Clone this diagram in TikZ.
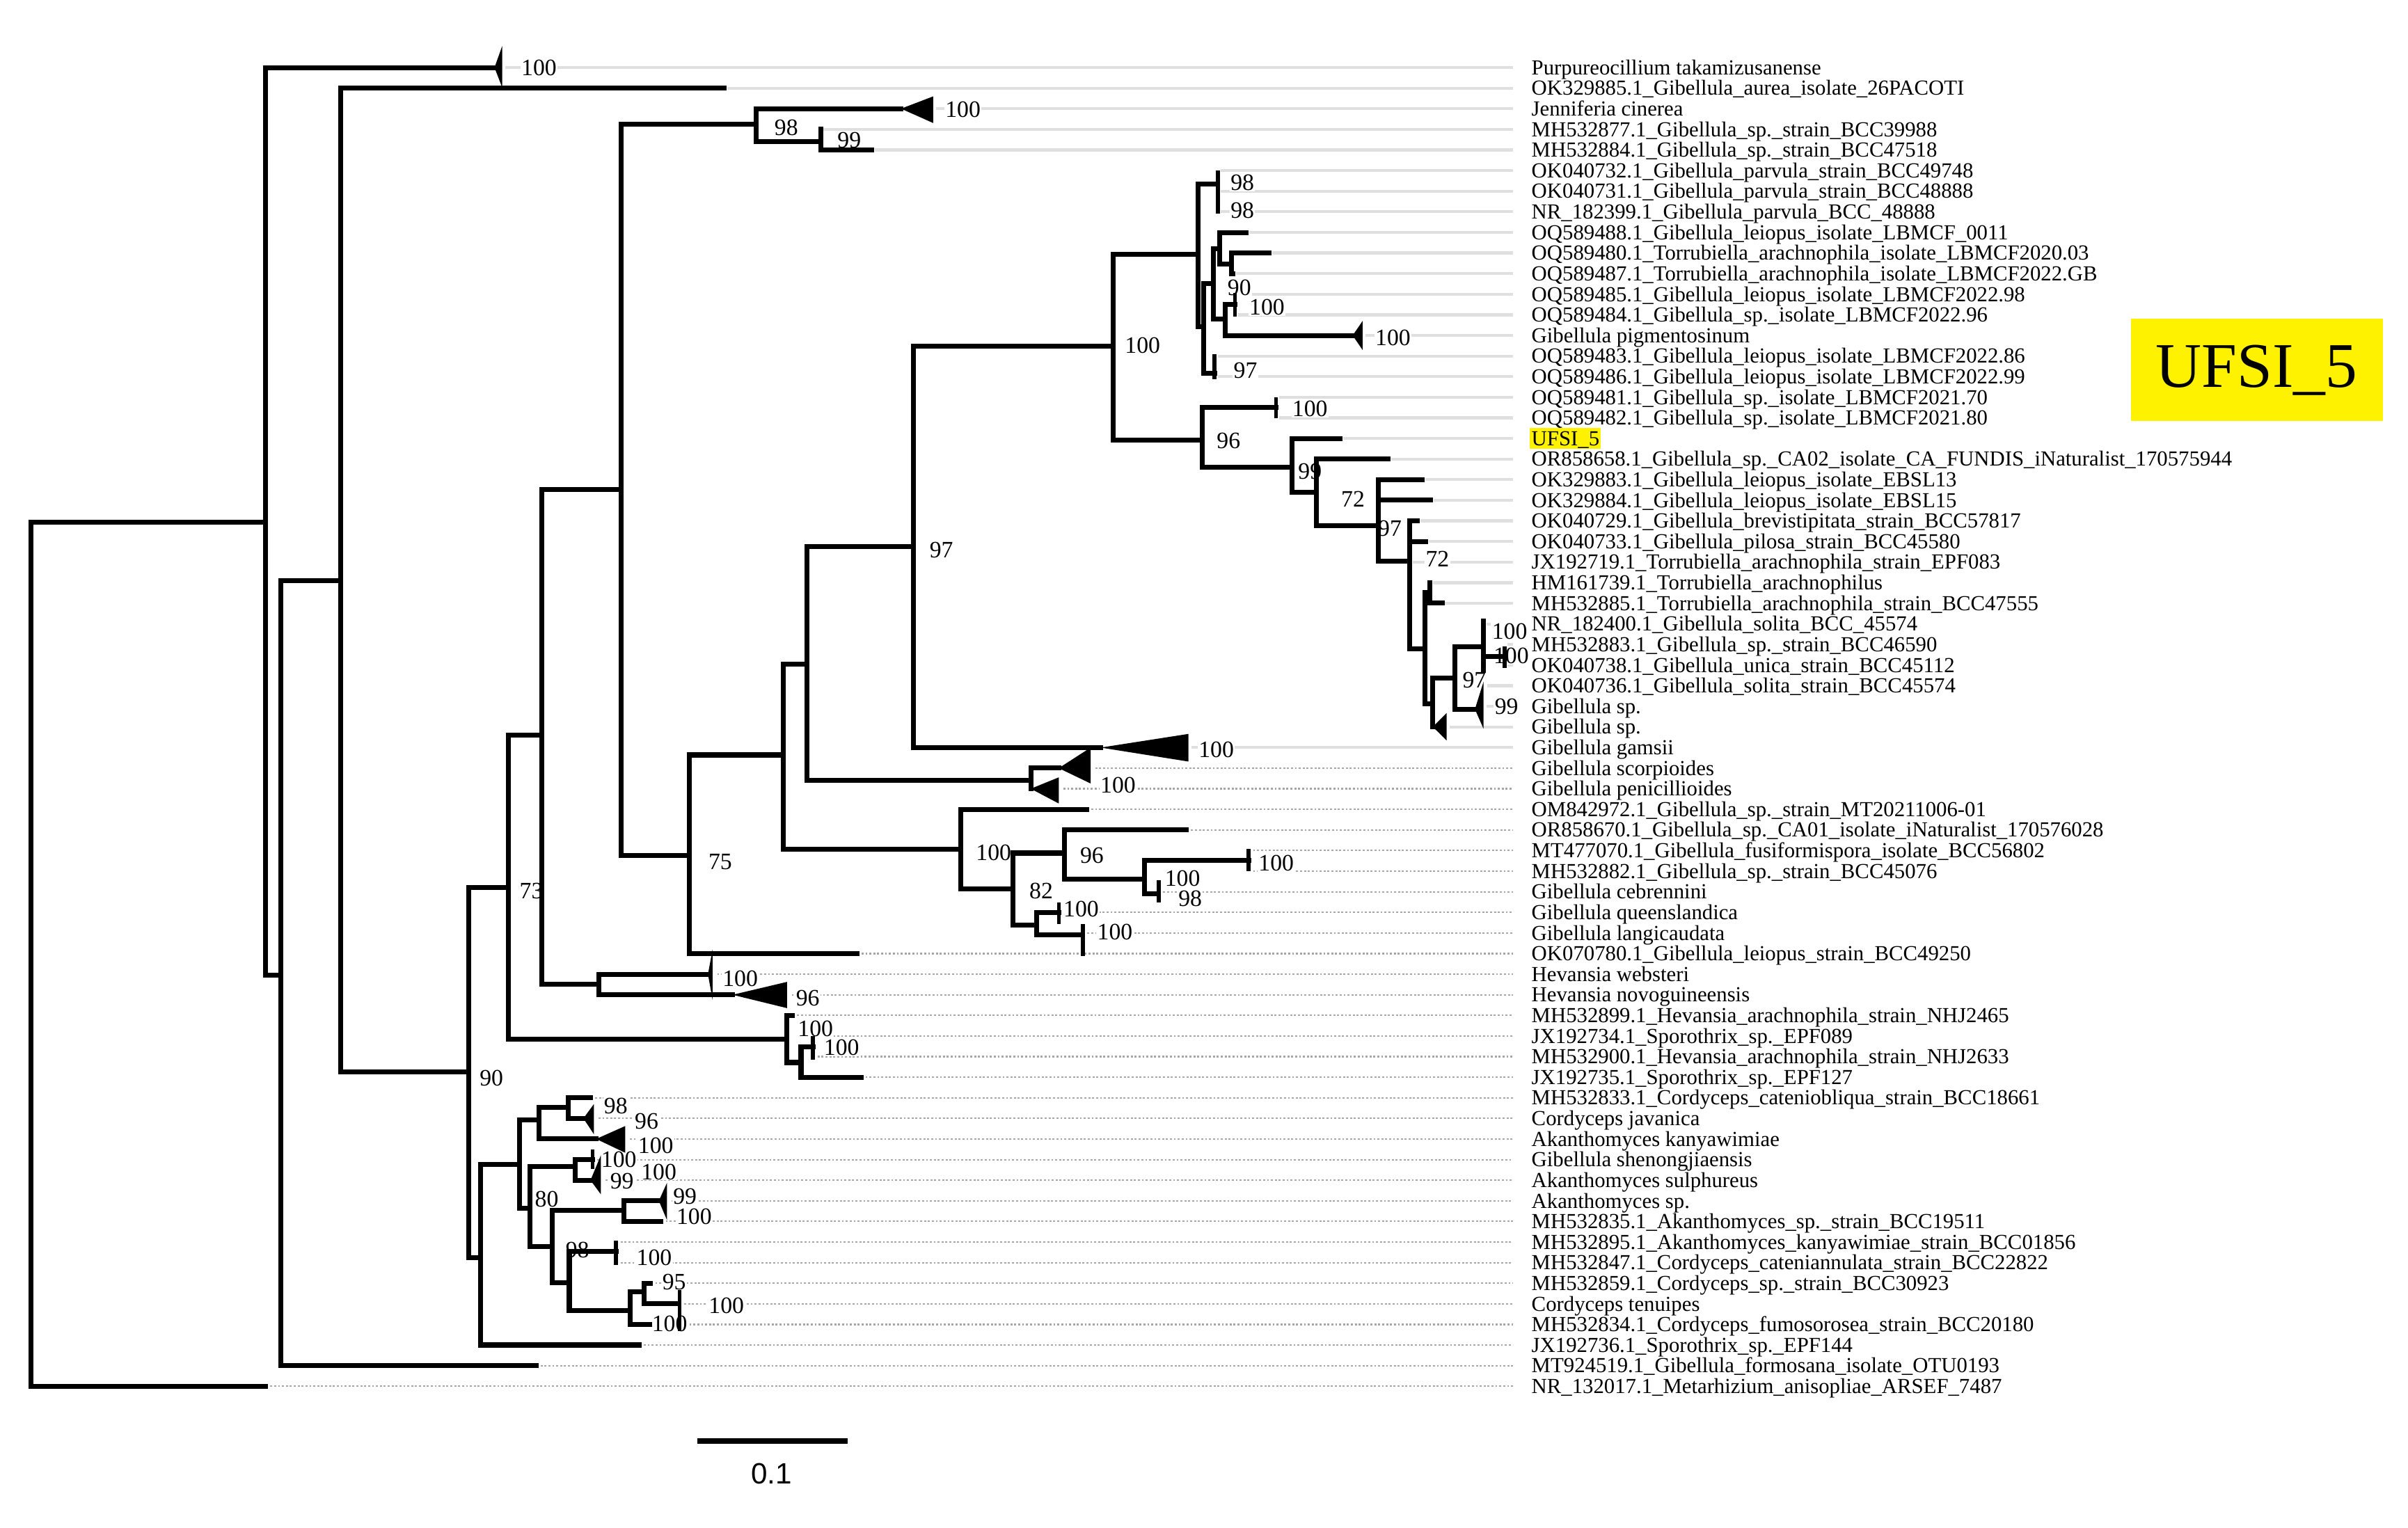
\documentclass[tikz,border=0pt]{standalone}
\usepackage{fontspec}
\setmainfont{Liberation Serif}
\newfontfamily\barfont{Liberation Sans}
\usetikzlibrary{positioning}

\tikzset{
  branch/.style={line width=2pt, line cap=rect},
  tipmark/.style={line width=1.6pt},
  leader/.style={line width=1.2pt, gray!25},
  dotleader/.style={line width=0.6pt, gray!70, dash pattern=on 0.8pt off 0.8pt},
  boot/.style={font=\fontsize{9.6}{9.6}\selectfont, inner sep=0.4pt, text height=6.5pt, text depth=0pt, fill=white},
  tiplabel/.style={font=\fontsize{8.75}{8.75}\selectfont, anchor=west, inner sep=0pt, text height=5.8pt, text depth=0pt},
}

\begin{document}
\begin{tikzpicture}[x=0.022066cm, y=-0.022066cm]
\useasboundingbox (0,0) rectangle (1568,995);

% leaders from tips to the names
\foreach \sx [count=\i] in {327,471.4,607.6,534.3,567.7,793,793,793,811.5,826.3,803,804.1,804.1,887.3,790.9,790.9,830.9,830.9,872.5,904,926.2,931.7,923,928.2,917.9,931,939,966,979.8,979.8,966,966,942,773.9}
  \draw[leader] (\sx+2,{44+(\i-1)*13.42}) -- (985,{44+(\i-1)*13.42});
\foreach \sx [count=\i from 35] in {710.2,689.4,707.6,772.6,813,813,754.4,689.5,705,558,464,512.5,516,529.4,529.4,560.6,384.5,386.7,407.1,385.9,391.3,434.3,430.5,401.1,401.1,423.7,442.5,423,416.2,349,173}
  \draw[dotleader] (\sx+3,{44+(\i-1)*13.42}) -- (985,{44+(\i-1)*13.42});

% support values
\foreach \bx/\by/\bv [count=\i] in {351/44/100, 627/71/100, 512/83/98, 553/91/99, 809/119/98, 809/137/98, 807/187/90, 825/200/100, 907/220/100, 811/241/97, 744/225/100, 853/266/100, 800/287/96, 853/307/99, 881/325/72, 905/344/97, 936/364/72, 983/411/100, 984/427/100, 960/443/97, 981/460/99, 613/358/97, 792/488/100, 728/511/100, 647/555/100, 711/557/96, 831/562/100, 770/572/100, 775/585/98, 678/580/82, 704/592/100, 726/607/100, 469/561/75, 482/637/100, 526/650/96, 531/670/100, 548/682/100, 346/580/73, 320/702/90, 401/720/98, 421/730/96, 427/746/100, 403/755/100, 429/763/100, 405/769/99, 356/781/80, 446/779/99, 452/792/100, 376/814/98, 426/819/100, 439/835/95, 473/850/100, 436/862/100}
  \node[boot] (b\i) at (\bx,\by) {\bv};

% backbone
\draw[branch] (322,44) -- (173,44) -- (173,635) -- (183,635)
  (173,340) -- (20,340) -- (20,902.9) -- (173,902.9)
  (349,889.5) -- (183,889.5) -- (183,378) -- (222,378)
  (471.4,57.4) -- (222,57.4) -- (222,698) -- (305,698)
  (331,578) -- (305,578) -- (305,819) -- (312.7,819)
  (353,479) -- (331,479) -- (331,677) -- (512.5,677)
  (404.4,319) -- (353,319) -- (353,641) -- (390,641);
\fill (322,44) -- (327,30) -- (327,57) -- cycle;

% Jenniferia group
\draw[branch] (492.4,80.9) -- (404.4,80.9) -- (404.4,557.2) -- (448.7,557.2)
  (586.7,70.8) -- (492.4,70.8) -- (492.4,92.2) -- (534.3,92.2)
  (534.3,84.3) -- (534.3,97.7) -- (567.7,97.7);
\fill (586.7,70.8) -- (607.6,62.8) -- (607.6,80.1) -- cycle;

% Gibellula core
\draw[branch] (509.9,491.7) -- (448.7,491.7) -- (448.7,621.1) -- (558,621.1)
  (525.5,432.5) -- (509.9,432.5) -- (509.9,553) -- (625.6,553)
  (595,356) -- (525.5,356) -- (525.5,508.3) -- (671.2,508.3)
  (689.4,500.3) -- (671.2,500.3) -- (671.2,513.7)
  (725,225.4) -- (595,225.4) -- (595,486.9) -- (716.7,486.9)
  (780,165.7) -- (725,165.7) -- (725,286.5) -- (782.8,286.5);
\fill (689.4,500.3) -- (710.2,486.9) -- (710.2,510.3) -- cycle;
\fill (671.2,513.7) -- (689.4,506.3) -- (689.4,523.3) -- cycle;
\fill (716.7,486.9) -- (773.9,478) -- (773.9,496) -- cycle;

% parvula / leiopus group
\draw[branch] (793,119.9) -- (780,119.9) -- (780,212.7) -- (783.7,212.7)
  (790.2,184.7) -- (783.7,184.7) -- (783.7,243.2) -- (790.9,243.2)
  (794.4,161.8) -- (790.2,161.8) -- (790.2,207.6) -- (797.6,207.6)
  (811.5,151.4) -- (794.4,151.4) -- (794.4,172) -- (801.8,172)
  (826.3,164.8) -- (801.8,164.8) -- (801.8,178.2) -- (803,178.2)
  (804.1,198.3) -- (797.6,198.3) -- (797.6,218.5) -- (880.8,218.5);
\draw[tipmark] (793,111) -- (793,139) (790.9,230.6) -- (790.9,247.1) (804.1,191) -- (804.1,206);
\fill (880.8,218.5) -- (887.3,209) -- (887.3,228) -- cycle;

% UFSI_5 group
\draw[branch] (830.9,265.4) -- (782.8,265.4) -- (782.8,304.3) -- (841.1,304.3)
  (872.5,285.6) -- (841.1,285.6) -- (841.1,320.8) -- (857.2,320.8)
  (904,299) -- (857.2,299) -- (857.2,342.4) -- (897.5,342.4)
  (926.2,312.4) -- (897.5,312.4) -- (897.5,365.3) -- (917.9,365.3)
  (897.5,325.8) -- (931.7,325.8)
  (923,339.2) -- (917.9,339.2) -- (917.9,422.5) -- (928,422.5)
  (917.9,352.7) -- (928.2,352.7)
  (931,386) -- (928,386) -- (928,458.5) -- (933,458.5)
  (931,379.5) -- (931,392.9) -- (939,392.9)
  (947.4,441.6) -- (933,441.6) -- (933,473.4)
  (966,421.2) -- (947.4,421.2) -- (947.4,461.9) -- (960.4,461.9)
  (966,404.3) -- (966,436.8)
  (966,427.6) -- (979.8,427.6);
\draw[tipmark] (830.9,258.8) -- (830.9,272.5) (979.8,421) -- (979.8,435);
\fill (933,473.4) -- (942,464.4) -- (942,482.3) -- cycle;
\fill (960.4,461.9) -- (966,444) -- (966,474.6) -- cycle;

% fusiformispora group
\draw[branch] (707.6,527.1) -- (625.6,527.1) -- (625.6,579.1) -- (659.5,579.1)
  (693.3,555.6) -- (659.5,555.6) -- (659.5,602.6) -- (675.1,602.6)
  (772.6,540.5) -- (693.3,540.5) -- (693.3,572.6) -- (745.3,572.6)
  (813,560.5) -- (745.3,560.5) -- (745.3,582.3) -- (754.4,582.3)
  (689.5,594.5) -- (675.1,594.5) -- (675.1,609) -- (705,609);
\draw[tipmark] (813,553) -- (813,567.6) (754.4,573.3) -- (754.4,587.9)
  (689.5,588) -- (689.5,601.8) (705,601.8) -- (705,622.7);

% Hevansia group
\draw[branch] (461,634.5) -- (390,634.5) -- (390,647.9) -- (477,647.9)
  (516,661.3) -- (512.5,661.3) -- (512.5,692) -- (521.6,692)
  (529.4,682) -- (521.6,682) -- (521.6,701.6) -- (560.6,701.6);
\fill (461,634.5) -- (464,618.3) -- (464,651.3) -- cycle;
\fill (477,647.9) -- (512.5,639.5) -- (512.5,656.6) -- cycle;
\draw[tipmark] (529.4,675) -- (529.4,690);

% Cordyceps / Akanthomyces group
\draw[branch] (338.4,758.3) -- (312.7,758.3) -- (312.7,876) -- (416.2,876)
  (351.2,729.6) -- (338.4,729.6) -- (338.4,787) -- (345.2,787)
  (370.1,721.3) -- (351.2,721.3) -- (351.2,741.8) -- (388.2,741.8)
  (384.5,715) -- (370.1,715) -- (370.1,728.4) -- (379.9,728.4)
  (374.6,759.8) -- (345.2,759.8) -- (345.2,812) -- (359.5,812)
  (385.9,755.3) -- (374.6,755.3) -- (374.6,768.7) -- (384.5,768.7)
  (406.4,788.5) -- (359.5,788.5) -- (359.5,835.4) -- (370.7,835.4)
  (429,782.1) -- (406.4,782.1) -- (406.4,795.5) -- (430.5,795.5)
  (401.1,815) -- (370.7,815) -- (370.7,853.5) -- (410.2,853.5)
  (419.2,841.4) -- (410.2,841.4) -- (410.2,862.6) -- (423,862.6)
  (423.7,835.8) -- (419.2,835.8) -- (419.2,849.2) -- (441.9,849.2);
\fill (379.9,728.4) -- (386.7,719.1) -- (386.7,738.7) -- cycle;
\fill (388.2,741.8) -- (407.1,733.4) -- (407.1,750.8) -- cycle;
\fill (384.5,768.7) -- (391.3,752.3) -- (391.3,777.9) -- cycle;
\fill (429,782.1) -- (434.3,770.4) -- (434.3,794.6) -- cycle;
\draw[tipmark] (385.9,748.5) -- (385.9,761.4) (401.1,808.2) -- (401.1,824.1) (442.5,840) -- (442.5,867);

% taxon names
\fill[yellow] (996,278.6) rectangle (1042.5,292.4);
\foreach \lab [count=\i] in {Purpureocillium takamizusanense,
  OK329885.1\_Gibellula\_aurea\_isolate\_26PACOTI,
  Jenniferia cinerea,
  MH532877.1\_Gibellula\_sp.\_strain\_BCC39988,
  MH532884.1\_Gibellula\_sp.\_strain\_BCC47518,
  OK040732.1\_Gibellula\_parvula\_strain\_BCC49748,
  OK040731.1\_Gibellula\_parvula\_strain\_BCC48888,
  NR\_182399.1\_Gibellula\_parvula\_BCC\_48888,
  OQ589488.1\_Gibellula\_leiopus\_isolate\_LBMCF\_0011,
  OQ589480.1\_Torrubiella\_arachnophila\_isolate\_LBMCF2020.03,
  OQ589487.1\_Torrubiella\_arachnophila\_isolate\_LBMCF2022.GB,
  OQ589485.1\_Gibellula\_leiopus\_isolate\_LBMCF2022.98,
  OQ589484.1\_Gibellula\_sp.\_isolate\_LBMCF2022.96,
  Gibellula pigmentosinum,
  OQ589483.1\_Gibellula\_leiopus\_isolate\_LBMCF2022.86,
  OQ589486.1\_Gibellula\_leiopus\_isolate\_LBMCF2022.99,
  OQ589481.1\_Gibellula\_sp.\_isolate\_LBMCF2021.70,
  OQ589482.1\_Gibellula\_sp.\_isolate\_LBMCF2021.80,
  UFSI\_5,
  OR858658.1\_Gibellula\_sp.\_CA02\_isolate\_CA\_FUNDIS\_iNaturalist\_170575944,
  OK329883.1\_Gibellula\_leiopus\_isolate\_EBSL13,
  OK329884.1\_Gibellula\_leiopus\_isolate\_EBSL15,
  OK040729.1\_Gibellula\_brevistipitata\_strain\_BCC57817,
  OK040733.1\_Gibellula\_pilosa\_strain\_BCC45580,
  JX192719.1\_Torrubiella\_arachnophila\_strain\_EPF083,
  HM161739.1\_Torrubiella\_arachnophilus,
  MH532885.1\_Torrubiella\_arachnophila\_strain\_BCC47555,
  NR\_182400.1\_Gibellula\_solita\_BCC\_45574,
  MH532883.1\_Gibellula\_sp.\_strain\_BCC46590,
  OK040738.1\_Gibellula\_unica\_strain\_BCC45112,
  OK040736.1\_Gibellula\_solita\_strain\_BCC45574,
  Gibellula sp.,
  Gibellula sp.,
  Gibellula gamsii,
  Gibellula scorpioides,
  Gibellula penicillioides,
  OM842972.1\_Gibellula\_sp.\_strain\_MT20211006-01,
  OR858670.1\_Gibellula\_sp.\_CA01\_isolate\_iNaturalist\_170576028,
  MT477070.1\_Gibellula\_fusiformispora\_isolate\_BCC56802,
  MH532882.1\_Gibellula\_sp.\_strain\_BCC45076,
  Gibellula cebrennini,
  Gibellula queenslandica,
  Gibellula langicaudata,
  OK070780.1\_Gibellula\_leiopus\_strain\_BCC49250,
  Hevansia websteri,
  Hevansia novoguineensis,
  MH532899.1\_Hevansia\_arachnophila\_strain\_NHJ2465,
  JX192734.1\_Sporothrix\_sp.\_EPF089,
  MH532900.1\_Hevansia\_arachnophila\_strain\_NHJ2633,
  JX192735.1\_Sporothrix\_sp.\_EPF127,
  MH532833.1\_Cordyceps\_cateniobliqua\_strain\_BCC18661,
  Cordyceps javanica,
  Akanthomyces kanyawimiae,
  Gibellula shenongjiaensis,
  Akanthomyces sulphureus,
  Akanthomyces sp.,
  MH532835.1\_Akanthomyces\_sp.\_strain\_BCC19511,
  MH532895.1\_Akanthomyces\_kanyawimiae\_strain\_BCC01856,
  MH532847.1\_Cordyceps\_cateniannulata\_strain\_BCC22822,
  MH532859.1\_Cordyceps\_sp.\_strain\_BCC30923,
  Cordyceps tenuipes,
  MH532834.1\_Cordyceps\_fumosorosea\_strain\_BCC20180,
  JX192736.1\_Sporothrix\_sp.\_EPF144,
  MT924519.1\_Gibellula\_formosana\_isolate\_OTU0193,
  NR\_132017.1\_Metarhizium\_anisopliae\_ARSEF\_7487}
  \node[tiplabel] (t\i) at (997,{44+(\i-1)*13.42}) {\lab};

% highlighted isolate
\node[fill=yellow, inner sep=0pt, minimum width=3.62cm, minimum height=1.47cm,
  font=\fontsize{26}{26}\selectfont] (ufsi) at (1469.5,241) {UFSI\_5};

% scale bar
\draw[line width=2.3pt] (454,938.5) -- (552,938.5);
\node[font=\barfont\fontsize{12}{12}\selectfont] (scale) at (502.3,960) {0.1};
\end{tikzpicture}
\end{document}
